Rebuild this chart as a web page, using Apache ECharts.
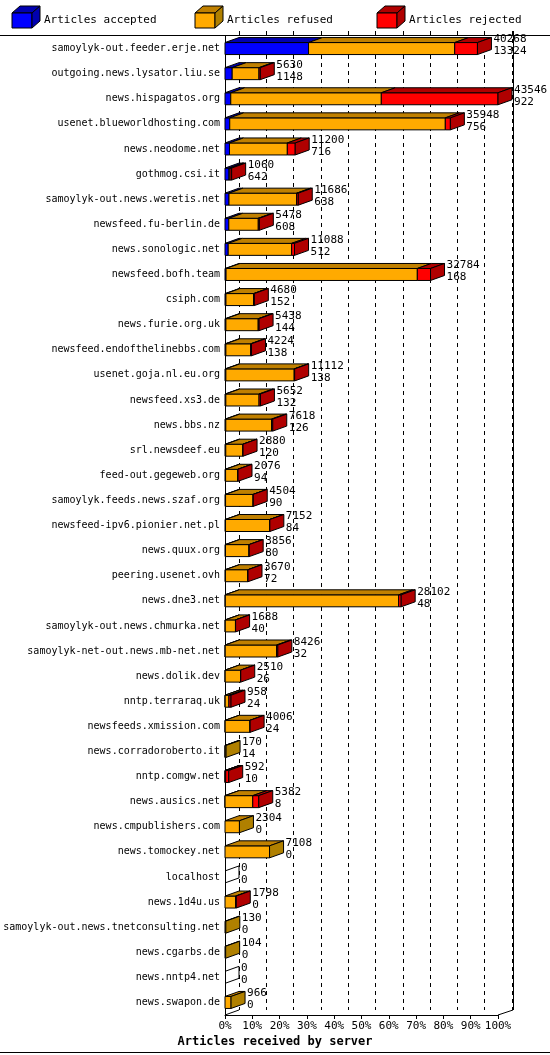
<!DOCTYPE html>
<html><head><meta charset="utf-8">
<script src="https://cdn.jsdelivr.net/npm/echarts@6/dist/echarts.min.js"></script>
<style>html,body{margin:0;padding:0;background:#fff}#c{width:550px;height:1055px}</style>
</head><body><div id="c"></div>
<script>
const categories = ["samoylyk-out.feeder.erje.net","outgoing.news.lysator.liu.se","news.hispagatos.org","usenet.blueworldhosting.com","news.neodome.net","gothmog.csi.it","samoylyk-out.news.weretis.net","newsfeed.fu-berlin.de","news.sonologic.net","newsfeed.bofh.team","csiph.com","news.furie.org.uk","newsfeed.endofthelinebbs.com","usenet.goja.nl.eu.org","newsfeed.xs3.de","news.bbs.nz","srl.newsdeef.eu","feed-out.gegeweb.org","samoylyk.feeds.news.szaf.org","newsfeed-ipv6.pionier.net.pl","news.quux.org","peering.usenet.ovh","news.dne3.net","samoylyk-out.news.chmurka.net","samoylyk-net-out.news.mb-net.net","news.dolik.dev","nntp.terraraq.uk","newsfeeds.xmission.com","news.corradoroberto.it","nntp.comgw.net","news.ausics.net","news.cmpublishers.com","news.tomockey.net","localhost","news.1d4u.us","samoylyk-out.news.tnetconsulting.net","news.cgarbs.de","news.nntp4.net","news.swapon.de"];
const offered  = [40268,5630,43546,35948,11200,1060,11686,5478,11088,32784,4680,5438,4224,11112,5652,7618,2880,2076,4504,7152,3856,3670,28102,1688,8426,2510,958,4006,170,592,5382,2304,7108,0,1798,130,104,0,966];
const accepted = [13324,1148,922,756,716,642,638,608,512,168,152,144,138,138,132,126,120,94,90,84,80,72,48,40,32,26,24,24,14,10,8,0,0,0,0,0,0,0,0];
const refused  = [23316,4272,24010,34384,9224,158,10790,4700,10120,30510,4400,5150,3950,10900,5300,7300,2740,1962,4394,7048,3756,3578,27650,1628,8200,2464,600,3962,156,100,4420,2304,7108,0,1700,130,104,0,966];
const rejected = [3628,210,18616,808,1260,260,258,170,456,2106,128,144,136,74,220,192,20,20,20,20,20,20,404,20,194,20,334,20,0,482,954,0,0,0,98,0,0,0,0];
const tickLabels = ["0%","10%","20%","30%","40%","50%","60%","70%","80%","90%","100%"];
const MAXV = 43546;

const FRONT = ['#0000ff','#ffaa00','#ff0000'];
const TOP = ['#0000b0','#c08000','#b00000'];
const SIDE = ['#0000b0','#b08000','#b00000'];
const DX = 14, DY = 5;
const mono = 'DejaVu Sans Mono';

const data = categories.map((c,i)=>[i, accepted[i], refused[i], rejected[i], offered[i]]);

function renderItem(params, api){
  const i = api.value(0);
  const vals = [api.value(1), api.value(2), api.value(3)];
  const h = 12;
  const p0 = api.coord([0, i]);
  const yc = p0[1], yt = yc - h/2, yb = yc + h/2;
  const children = [];
  let acc = 0, last = -1;
  const ln = {stroke:'#000', lineWidth:1};
  for (let k=0;k<3;k++){
    const v = vals[k];
    if (v<=0) continue;
    const x1 = api.coord([acc, i])[0], x2 = api.coord([acc+v, i])[0];
    children.push({type:'rect', shape:{x:x1,y:yt,width:x2-x1,height:h}, style:{fill:FRONT[k], stroke:'#000', lineWidth:1}});
    children.push({type:'polygon', shape:{points:[[x1,yt],[x2,yt],[x2+DX,yt-DY],[x1+DX,yt-DY]]}, style:{fill:TOP[k], stroke:'#000', lineWidth:1}});
    acc += v; last = k;
  }
  const xe = api.coord([acc, i])[0];
  if (last>=0){
    children.push({type:'polygon', shape:{points:[[xe,yt],[xe+DX,yt-DY],[xe+DX,yb-DY],[xe,yb]]}, style:{fill:SIDE[last], stroke:'#000', lineWidth:1}});
  } else {
    children.push({type:'polyline', shape:{points:[[xe,yt],[xe+DX,yt-DY]]}, style:ln});
    children.push({type:'polyline', shape:{points:[[xe,yb],[xe+DX,yb-DY]]}, style:ln});
    children.push({type:'polyline', shape:{points:[[xe+DX,yt-DY],[xe+DX,yb-DY]]}, style:ln});
  }
  children.push({type:'text', style:{text: api.value(4)+'\n'+accepted[i], x: xe+DX+2, y: yc-3, fill:'#000', font:'11px '+mono, verticalAlign:'middle', lineHeight:12}});
  return {type:'group', children};
}

const chart = echarts.init(document.getElementById('c'));
const gridBase = {top:36, bottom:40, left:225, right:52};
chart.setOption({
  animation:false,
  grid:[gridBase, {top:31, bottom:45, left:225+DX, right:52-DX}],
  xAxis:[
    {gridIndex:0, type:'value', min:0, max:MAXV, interval:MAXV/10,
     axisLine:{show:true, lineStyle:{color:'#000'}}, axisTick:{show:true, length:4, lineStyle:{color:'#000'}},
     splitLine:{show:false},
     axisLabel:{color:'#000', fontFamily:mono, fontSize:11, margin:6, formatter:(v)=>tickLabels[Math.round(v/MAXV*10)]}},
    {gridIndex:1, type:'value', min:0, max:MAXV, interval:MAXV/10,
     axisLine:{show:false}, axisTick:{show:false}, axisLabel:{show:false},
     splitLine:{show:true, lineStyle:{color:'#000', type:[4,4], width:1}}}
  ],
  yAxis:[
    {gridIndex:0, type:'category', data:categories, inverse:true,
     axisLine:{show:true, lineStyle:{color:'#000'}}, axisTick:{show:false},
     axisLabel:{color:'#000', fontFamily:mono, fontSize:10, margin:5}},
    {gridIndex:1, type:'category', data:categories, inverse:true, show:false}
  ],
  series:[{type:'custom', renderItem, data, encode:{x:[1,2,3], y:0}, clip:false, z:5}],
  graphic:[
    {type:'line', shape:{x1:0,y1:35.5,x2:550,y2:35.5}, style:{stroke:'#000'}},
    {type:'line', shape:{x1:0,y1:1052.5,x2:550,y2:1052.5}, style:{stroke:'#000'}},
    {type:'line', shape:{x1:513.5,y1:31,x2:513.5,y2:1010}, style:{stroke:'#000'}},
    {type:'line', shape:{x1:225,y1:1015,x2:239,y2:1010}, style:{stroke:'#000'}},
    {type:'line', shape:{x1:498,y1:1015,x2:513,y2:1010}, style:{stroke:'#000'}},
    // legend
    {type:'polygon', shape:{points:[[12,13],[32,13],[40,6],[20,6]]}, style:{fill:TOP[0],stroke:'#000'}},
    {type:'rect', shape:{x:12,y:13,width:20,height:15}, style:{fill:FRONT[0],stroke:'#000'}},
    {type:'polygon', shape:{points:[[32,13],[40,6],[40,21],[32,28]]}, style:{fill:SIDE[0],stroke:'#000'}},
    {type:'text', style:{text:'Articles accepted', x:44, y:20, verticalAlign:'middle', font:'11px '+mono, fill:'#000'}},
    {type:'polygon', shape:{points:[[195,13],[215,13],[223,6],[203,6]]}, style:{fill:TOP[1],stroke:'#000'}},
    {type:'rect', shape:{x:195,y:13,width:20,height:15}, style:{fill:FRONT[1],stroke:'#000'}},
    {type:'polygon', shape:{points:[[215,13],[223,6],[223,21],[215,28]]}, style:{fill:SIDE[1],stroke:'#000'}},
    {type:'text', style:{text:'Articles refused', x:227, y:20, verticalAlign:'middle', font:'11px '+mono, fill:'#000'}},
    {type:'polygon', shape:{points:[[377,13],[397,13],[405,6],[385,6]]}, style:{fill:TOP[2],stroke:'#000'}},
    {type:'rect', shape:{x:377,y:13,width:20,height:15}, style:{fill:FRONT[2],stroke:'#000'}},
    {type:'polygon', shape:{points:[[397,13],[405,6],[405,21],[397,28]]}, style:{fill:SIDE[2],stroke:'#000'}},
    {type:'text', style:{text:'Articles rejected', x:409, y:20, verticalAlign:'middle', font:'11px '+mono, fill:'#000'}},
    {type:'text', style:{text:'Articles received by server', x:275, y:1042, align:'center', verticalAlign:'middle', font:'bold 12px '+mono, fill:'#000'}}
  ]
});
</script></body></html>
